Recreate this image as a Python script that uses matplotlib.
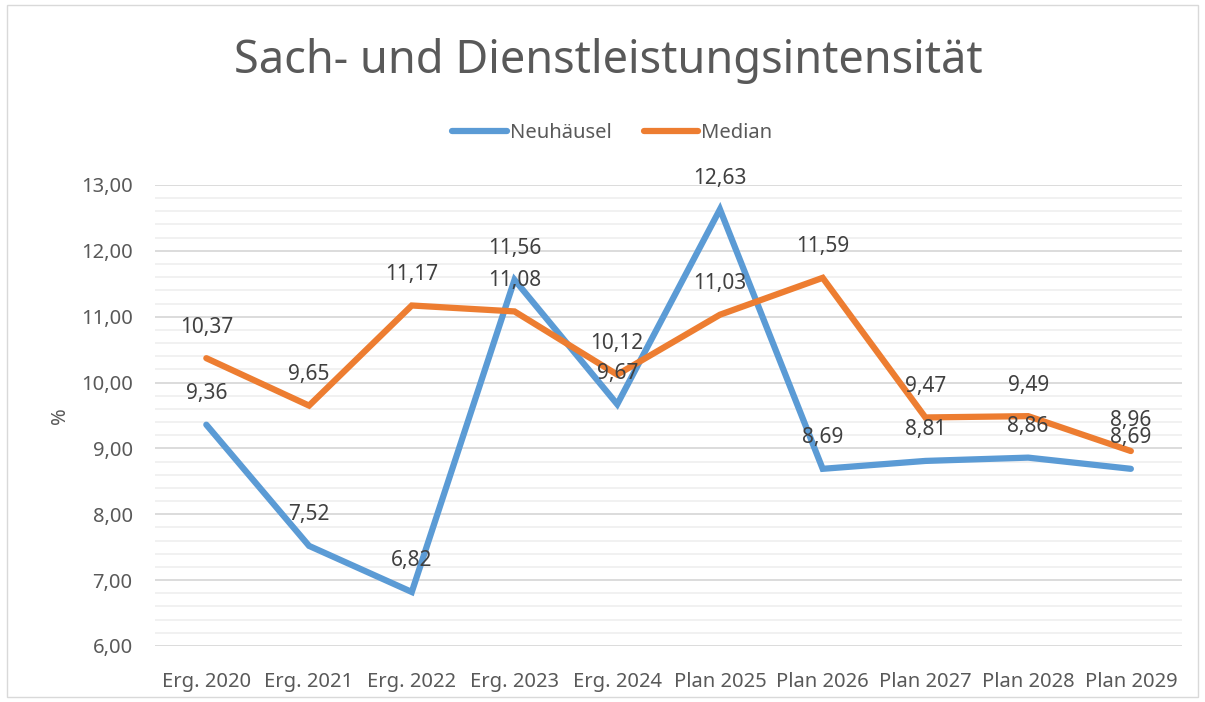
import matplotlib
matplotlib.use("Agg")
import matplotlib.pyplot as plt
from matplotlib.ticker import MultipleLocator, FuncFormatter
from matplotlib.patches import Rectangle

categories = ["Erg. 2020", "Erg. 2021", "Erg. 2022", "Erg. 2023", "Erg. 2024",
              "Plan 2025", "Plan 2026", "Plan 2027", "Plan 2028", "Plan 2029"]
neuhaeusel = [9.36, 7.52, 6.82, 11.56, 9.67, 12.63, 8.69, 8.81, 8.86, 8.69]
median = [10.37, 9.65, 11.17, 11.08, 10.12, 11.03, 11.59, 9.47, 9.49, 8.96]

plt.rcParams['font.family'] = ['Noto Sans', 'DejaVu Sans']
TXT = '#595959'
BLUE = '#5B9BD5'
ORANGE = '#ED7D31'

fig = plt.figure(figsize=(12.05, 7.02), dpi=100)
ax = fig.add_axes([0.1286, 0.0798, 0.8525, 0.6567])

x = list(range(len(categories)))
ax.plot(x, neuhaeusel, color=BLUE, lw=4.5, solid_capstyle='round', solid_joinstyle='miter', label='Neuhäusel', zorder=3)
ax.plot(x, median, color=ORANGE, lw=4.5, solid_capstyle='round', solid_joinstyle='miter', label='Median', zorder=4)

fmt = lambda v: f"{v:.2f}".replace('.', ',')
for series in (neuhaeusel, median):
    for xi, v in zip(x, series):
        ax.annotate(fmt(v), (xi, v), xytext=(0, 31), textcoords='offset pixels',
                    ha='center', va='center', fontsize=15, color='#404040', zorder=5)

ax.set_xlim(-0.5, len(categories) - 0.5)
ax.set_ylim(6, 13)
ax.yaxis.set_major_locator(MultipleLocator(1))
ax.yaxis.set_minor_locator(MultipleLocator(0.2))
ax.yaxis.set_major_formatter(FuncFormatter(lambda v, p: fmt(v)))
ax.grid(axis='y', which='major', color='#d9d9d9', lw=1.3, zorder=0)
ax.grid(axis='y', which='minor', color='#f0f0f0', lw=1.3, zorder=0)
ax.set_xticks(x)
ax.set_xticklabels(categories)
ax.tick_params(axis='both', which='both', length=0, labelsize=14.5, colors=TXT)
ax.tick_params(axis='x', pad=19)
ax.tick_params(axis='y', pad=16)
for s in ax.spines.values():
    s.set_visible(False)
ax.set_ylabel('%', fontsize=14.5, color=TXT, labelpad=8)

fig.text(0.505, 0.913, 'Sach- und Dienstleistungsintensität', ha='center', va='center',
         fontsize=32.5, color=TXT, fontweight='light')
leg = fig.legend(loc='center', bbox_to_anchor=(0.508, 0.81), ncol=2, frameon=False,
                 fontsize=14.5, handlelength=2.7, handletextpad=0.15, columnspacing=1.6)
for t in leg.get_texts():
    t.set_color(TXT)

fig.patches.append(Rectangle((0.006, 0.007), 0.988, 0.986, transform=fig.transFigure,
                             fill=False, edgecolor='#d9d9d9', lw=1))

fig.savefig('out.png', dpi=100, facecolor='white')
